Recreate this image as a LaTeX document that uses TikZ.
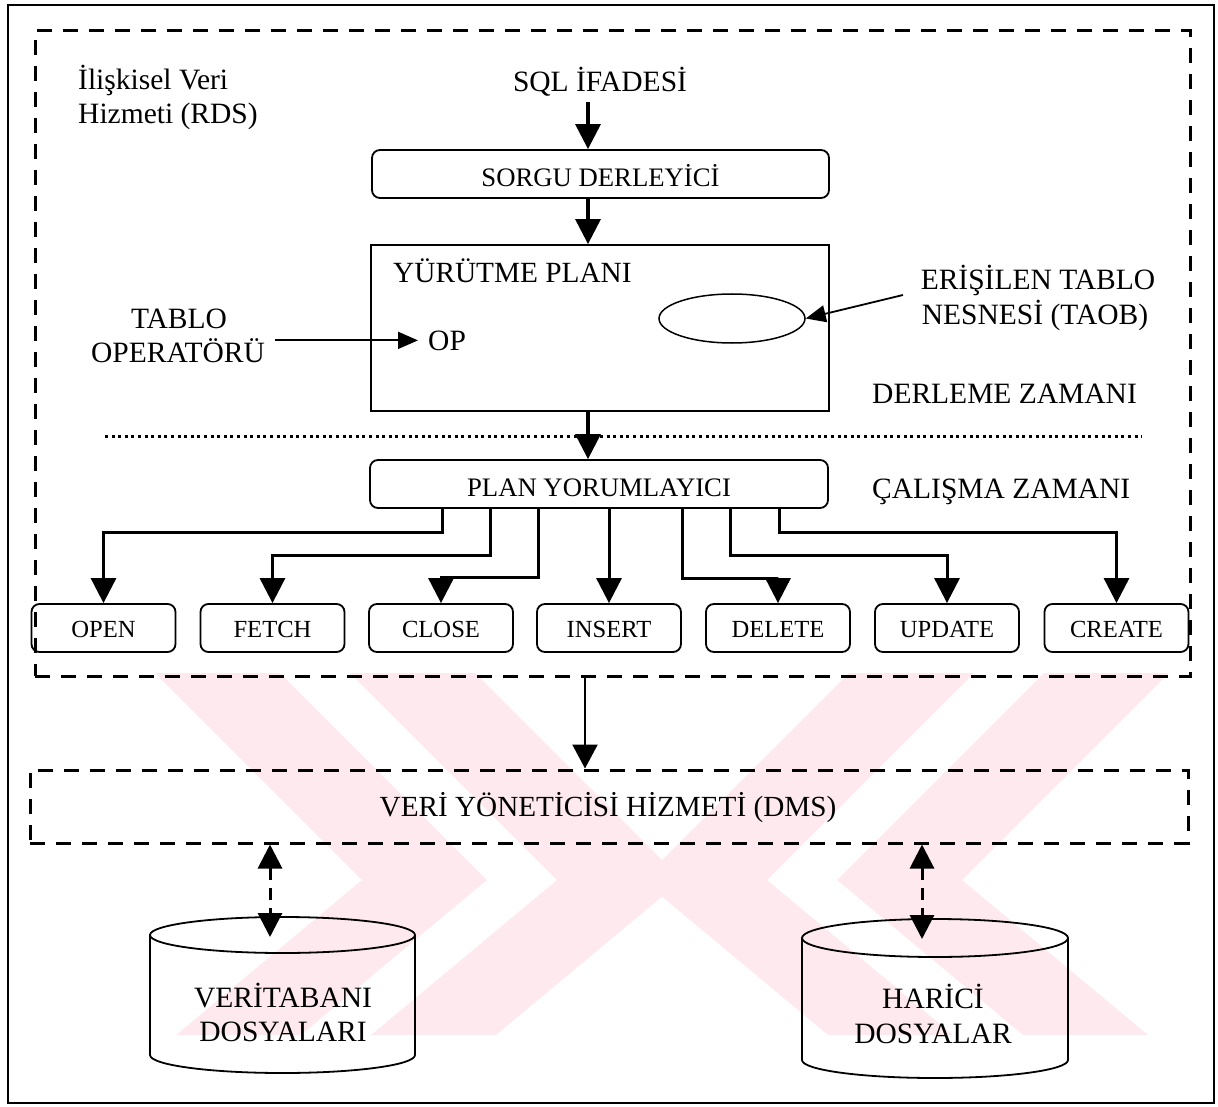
\documentclass[tikz,border=0pt]{standalone}
\usepackage{fontspec}
\setmainfont{Liberation Serif}
\usetikzlibrary{arrows.meta,shapes.geometric}

\definecolor{wmpink}{RGB}{254,234,238}

\tikzset{
  txt/.style={font=\fontsize{29.5}{34}\selectfont, inner sep=0pt},
  proc/.style={draw, line width=1.8pt, rounded corners=8pt, inner sep=0pt,
    font=\fontsize{26.7}{31}\selectfont, text height=25pt, text depth=0pt},
  opbox/.style={draw, line width=1.8pt, rounded corners=8pt, inner sep=0pt,
    minimum width=144pt, minimum height=48pt,
    font=\fontsize{24.6}{29}\selectfont, text height=19pt, text depth=0pt},
  flow/.style={line width=3.2pt, -{Triangle[length=25pt,width=25pt]}},
  branch/.style={line width=3pt, rounded corners=0pt, -{Triangle[length=25pt,width=25pt]}},
  ptr/.style={line width=1.8pt, -{Triangle[length=20pt,width=17pt]}},
  thinflow/.style={line width=2.4pt, -{Triangle[length=24pt,width=25pt]}},
  groupbox/.style={draw, line width=3pt, dash pattern=on 15pt off 11pt, inner sep=0pt},
  dashlink/.style={line width=3pt, dash pattern=on 12pt off 8pt,
    {Triangle[length=24pt,width=24pt]}-{Triangle[length=24pt,width=24pt]}},
  drum/.style={line width=1.8pt},
}

\begin{document}
\begin{tikzpicture}[x=1pt,y=-1pt]
\useasboundingbox (0,0) rectangle (1218,1107);

% faint background emblem: two pairs of facing chevrons
\begin{scope}
  \clip (153,673) rectangle (1170,1035);
  \fill[wmpink] (155,673) -- (280,673) -- (487,880) -- (301,1035) -- (176,1035) -- (362,880) -- cycle;
  \fill[wmpink] (350,673) -- (475,673) -- (682,880) -- (496,1035) -- (371,1035) -- (557,880) -- cycle;
  \fill[wmpink] (1169,673) -- (1044,673) -- (837,880) -- (1023,1035) -- (1148,1035) -- (962,880) -- cycle;
  \fill[wmpink] (974,673) -- (849,673) -- (642,880) -- (828,1035) -- (953,1035) -- (767,880) -- cycle;
\end{scope}

% outer frame
\draw[line width=2pt] (8,5) rectangle (1214,1103);

% relational data service group
\node[groupbox, minimum width=1155pt, minimum height=645pt] (rds) at (612.5,353.5) {};
\node[txt, anchor=base west] (rds1) at (78,90) {İlişkisel Veri};
\node[txt, anchor=base west] (rds2) at (78,124) {Hizmeti (RDS)};

\coordinate (spine) at (588,0);

\node[txt, anchor=base] (sql) at (600,92) {SQL İFADESİ};
\node[proc, minimum width=457pt, minimum height=48pt] (sorgu) at (600.5,174) {SORGU DERLEYİCİ};

% execution plan
\node[draw, line width=1.8pt, minimum width=458pt, minimum height=166pt] (yp) at (600,328) {};
\node[txt, anchor=base west, font=\fontsize{29.3}{34}\selectfont] (yptitle) at (393,283) {YÜRÜTME PLANI};
\node[draw, ellipse, line width=1.5pt, minimum width=146pt, minimum height=49pt] (taob) at (732,318.5) {};
\node[txt, anchor=base west] (op) at (428,350) {OP};

\node[txt, anchor=base] (taob1) at (1038,290) {ERİŞİLEN TABLO};
\node[txt, anchor=base] (taob2) at (1035,324) {NESNESİ (TAOB)};
\coordinate (taobsrc) at (903,295);

\node[txt, anchor=base] (tab1) at (179,328) {TABLO};
\node[txt, anchor=base] (tab2) at (178,362) {OPERATÖRÜ};

\node[txt, anchor=base west] (derl) at (872,403) {DERLEME ZAMANI};

\coordinate (dotL) at (105,436);
\coordinate (dotR) at (1142,436);
\draw[line width=3pt, dash pattern=on 3pt off 3.6pt] (dotL) -- (dotR);

\node[proc, minimum width=458pt, minimum height=48pt] (pyr) at (599,484) {PLAN YORUMLAYICI};
\node[txt, anchor=base west] (calis) at (872,498) {ÇALIŞMA ZAMANI};

% run-time operations
\node[opbox] (open)   at (103.5,628) {OPEN};
\node[opbox] (fetch)  at (272.5,628) {FETCH};
\node[opbox] (close)  at (441,628)   {CLOSE};
\node[opbox] (insert) at (609,628)   {INSERT};
\node[opbox] (delete) at (778,628)   {DELETE};
\node[opbox] (update) at (947,628)   {UPDATE};
\node[opbox] (create) at (1116.5,628) {CREATE};

% data manager service
\node[groupbox, minimum width=1158pt, minimum height=73pt] (dms) at (609,806.5) {};
\node[txt, anchor=base, font=\fontsize{29.2}{34}\selectfont] (dmstxt) at (608,816) {VERİ YÖNETİCİSİ HİZMETİ (DMS)};
\coordinate (rdsx) at (585,0);

% storage drums
\draw[drum] (282.5,935) ellipse [x radius=132.5, y radius=18];
\draw[drum] (150,935) -- (150,1055);
\draw[drum] (415,935) -- (415,1055);
\begin{scope}
  \clip (140,1055) rectangle (425,1085);
  \draw[drum] (282.5,1055) ellipse [x radius=132.5, y radius=18];
\end{scope}
\node[txt, anchor=base] (db1) at (283,1007) {VERİTABANI};
\node[txt, anchor=base] (db2) at (283,1041) {DOSYALARI};
\coordinate (dbtop) at (270,937);

\draw[drum] (935,938) ellipse [x radius=133, y radius=19];
\draw[drum] (802,938) -- (802,1060);
\draw[drum] (1068,938) -- (1068,1060);
\begin{scope}
  \clip (792,1060) rectangle (1078,1090);
  \draw[drum] (935,1060) ellipse [x radius=133, y radius=18];
\end{scope}
\node[txt, anchor=base] (ex1) at (933,1008) {HARİCİ};
\node[txt, anchor=base] (ex2) at (933,1043) {DOSYALAR};
\coordinate (extop) at (922,939);

% connectors
\draw[flow] (spine |- sql.south) ++(0,5) -- (spine |- sorgu.north);
\draw[flow] (spine |- sorgu.south) -- (spine |- yp.north);
\draw[flow] (spine |- yp.south) -- (spine |- pyr.north);
\draw[ptr] (taobsrc) -- (taob.east);
\draw[ptr] ([xshift=10pt]tab2.east |- op.west) -- ([xshift=-10pt]op.west);

\draw[branch] ([xshift=-157pt]pyr.south) -- ++(0,24) -| (open.north);
\draw[branch] ([xshift=-109pt]pyr.south) -- ++(0,47) -| (fetch.north);
\draw[branch] ([xshift=-61pt]pyr.south) -- ++(0,69) -| (close.north);
\draw[branch] (pyr.south -| insert.north) -- (insert.north);
\draw[branch] ([xshift=83pt]pyr.south) -- ++(0,70) -| (delete.north);
\draw[branch] ([xshift=131pt]pyr.south) -- ++(0,47) -| (update.north);
\draw[branch] ([xshift=180pt]pyr.south) -- ++(0,24) -| (create.north);

\draw[thinflow] (rdsx |- rds.south) -- (rdsx |- dms.north);
\draw[dashlink] (dms.south -| dbtop) -- (dbtop);
\draw[dashlink] (dms.south -| extop) -- (extop);
\end{tikzpicture}
\end{document}
